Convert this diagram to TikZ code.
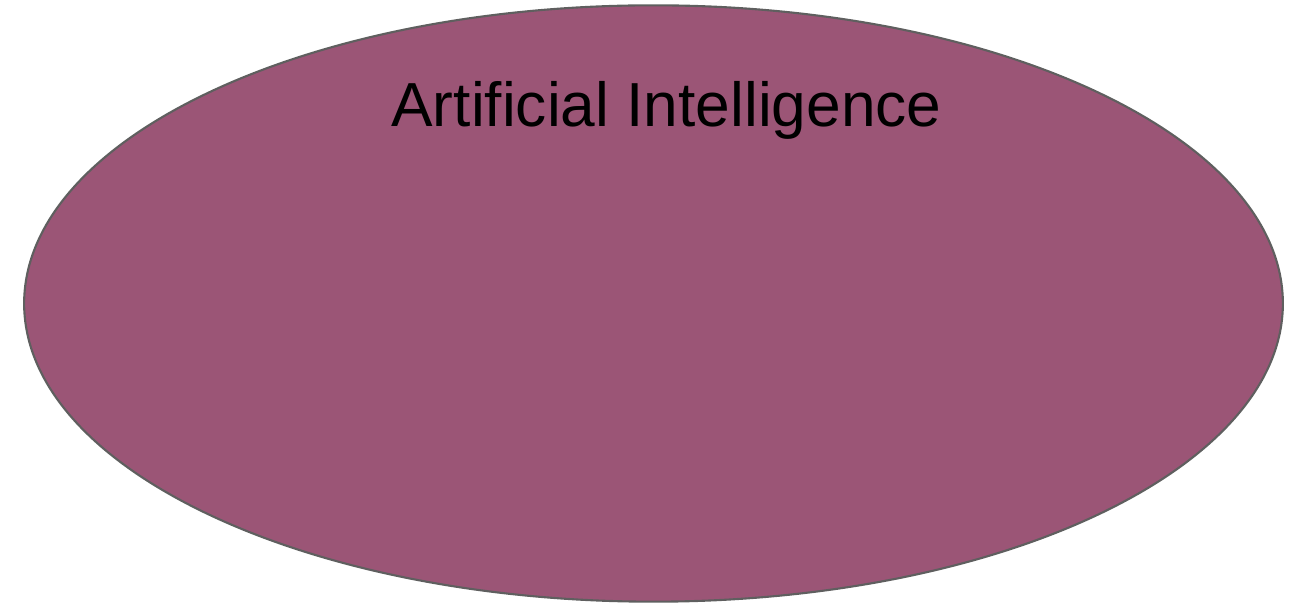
\documentclass[tikz,border=0pt]{standalone}
\usepackage{fontspec}
\setmainfont{Liberation Sans}
\usetikzlibrary{shapes.geometric}
\definecolor{aifill}{HTML}{9B5576}
\definecolor{aiedge}{HTML}{5F5F5F}
\begin{document}
\begin{tikzpicture}[x=0.01cm, y=-0.01cm,
  field/.style={ellipse, draw=aiedge, line width=0.6pt, fill=aifill,
    minimum width=12.58cm, minimum height=5.96cm, inner sep=0pt},
  fieldlabel/.style={font=\fontsize{17.7}{21}\selectfont, text=black, anchor=base}]
  \useasboundingbox (0,0) rectangle (1306,610);
  % outer field
  \node[field] (ai) at (653.5,303.5) {};
  \node[fieldlabel] (ailabel) at (666.5,127) {Artificial Intelligence};
\end{tikzpicture}
\end{document}
